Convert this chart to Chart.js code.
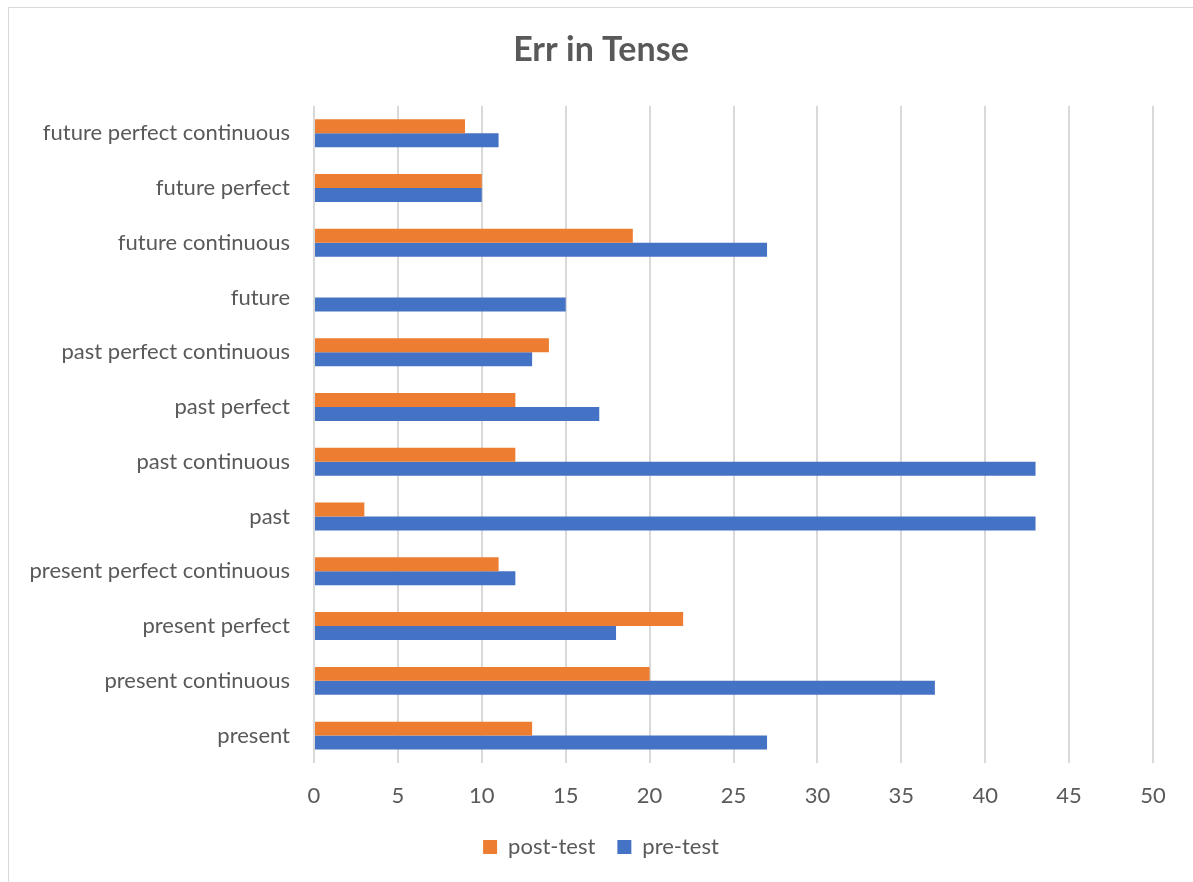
<!DOCTYPE html>
<html>
<head>
<meta charset="utf-8">
<script src="https://cdn.jsdelivr.net/npm/chart.js@4.4.1/dist/chart.umd.min.js"></script>
<style>
  body { margin: 0; background: #fff; }
  #frame { position: absolute; left: 8px; top: 7px; width: 1200px; height: 900px; border: 1px solid #d9d9d9; }
  #wrap { position: absolute; left: 0; top: 0; width: 1193px; height: 882px; }
</style>
</head>
<body>
<div id="frame"></div>
<div id="wrap"><canvas id="chart"></canvas></div>
<script>
// categories, top to bottom as shown
const categories = [
    'future perfect continuous', 'future perfect', 'future continuous', 'future',
    'past perfect continuous', 'past perfect', 'past continuous', 'past',
    'present perfect continuous', 'present perfect', 'present continuous', 'present'
];
const postTest = [9, 10, 19, 0, 14, 12, 12, 3, 11, 22, 20, 13];
const preTest = [11, 10, 27, 15, 13, 17, 43, 43, 12, 18, 37, 27];
const xTicks = [0, 5, 10, 15, 20, 25, 30, 35, 40, 45, 50];

const FONT = 'Lato';
const GREY = '#595959';

const ctx = document.getElementById('chart').getContext('2d');
const myChart = new Chart(ctx, {
    type: 'bar',
    data: {
        labels: categories,
        datasets: [{
            label: 'post-test',
            data: postTest,
            backgroundColor: '#ED7D31',
            categoryPercentage: 0.51,
            barPercentage: 1.0
        }, {
            label: 'pre-test',
            data: preTest,
            backgroundColor: '#4472C4',
            categoryPercentage: 0.51,
            barPercentage: 1.0
        }]
    },
    options: {
        indexAxis: 'y',
        responsive: true,
        maintainAspectRatio: false,
        animation: false,
        layout: { padding: { left: 9, right: 0, top: 0, bottom: 14 } },
        scales: {
            x: {
                min: xTicks[0],
                max: xTicks[xTicks.length - 1],
                afterBuildTicks: scale => { scale.ticks = xTicks.map(v => ({ value: v })); },
                afterFit: scale => { scale.height = 51; },
                grid: { color: '#d9d9d9', lineWidth: 2, drawTicks: false },
                border: { display: false },
                ticks: { color: GREY, font: { family: FONT, size: 22 }, padding: 20 }
            },
            y: {
                afterFit: scale => { scale.width = 305; },
                grid: { display: false },
                border: { display: false },
                ticks: { color: GREY, font: { family: FONT, size: 22 }, padding: 16 }
            },
            // empty right margin so the title stays centred on the frame
            yRight: {
                type: 'category',
                position: 'right',
                afterFit: scale => { scale.width = 40; },
                grid: { display: false },
                border: { display: false },
                ticks: { display: false }
            }
        },
        plugins: {
            title: {
                display: true,
                text: 'Err in Tense',
                color: GREY,
                font: { family: FONT, size: 34, weight: 'bold' },
                padding: { top: 30, bottom: 35 }
            },
            legend: {
                position: 'bottom',
                labels: {
                    color: GREY,
                    font: { family: FONT, size: 22 },
                    boxWidth: 14,
                    boxHeight: 14,
                    padding: 22
                }
            },
            tooltip: { enabled: false }
        }
    }
});
</script>
</body>
</html>
